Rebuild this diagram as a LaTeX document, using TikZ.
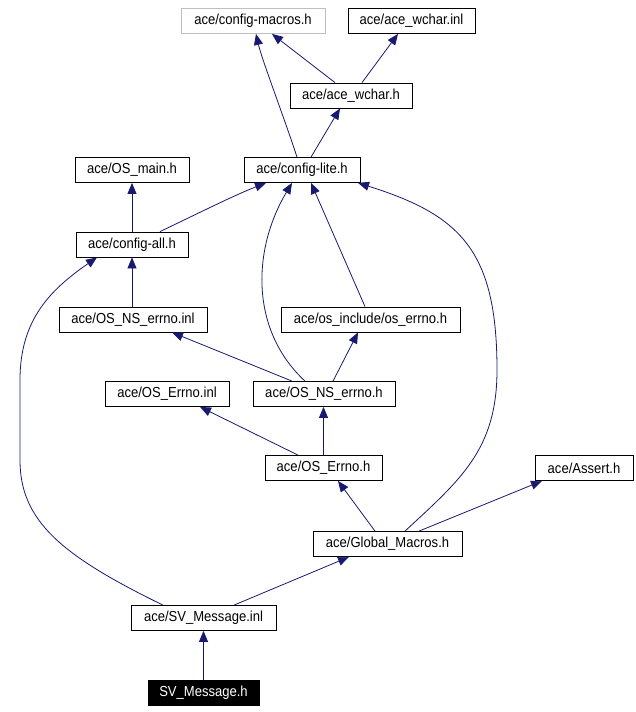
\documentclass[tikz,border=0pt]{standalone}
\usepackage{fontspec}
\setmainfont[FakeStretch=0.9]{Liberation Sans}
\usetikzlibrary{arrows.meta}
\definecolor{edgeblue}{HTML}{191970}
\definecolor{lightframe}{HTML}{BFBFBF}
\begin{document}
\begin{tikzpicture}[x=1pt,y=-1pt,
  box/.style={draw=black,line width=0.8pt,minimum height=25pt,inner sep=0pt,
    font=\fontsize{14.5}{16}\selectfont},
  dep/.style={draw=edgeblue,line width=0.8pt,-{Triangle[length=11pt,width=9pt]}}]
\useasboundingbox (0,0) rectangle (635,712);
% headers, top down
\node[box,draw=lightframe,minimum width=144] (cmacros) at (253,21) {ace/config-macros.h};
\node[box,minimum width=127] (wcharinl) at (411.5,21) {ace/ace\_wchar.inl};
\node[box,minimum width=122] (wcharh) at (351,95.5) {ace/ace\_wchar.h};
\node[box,minimum width=114] (osmain) at (132,170) {ace/OS\_main.h};
\node[box,minimum width=116] (clite) at (302,170) {ace/config-lite.h};
\node[box,minimum width=112] (call) at (132,244.5) {ace/config-all.h};
\node[box,minimum width=148] (nserrnoinl) at (133,319.5) {ace/OS\_NS\_errno.inl};
\node[box,minimum width=179] (oserrno) at (370.5,319.5) {ace/os\_include/os\_errno.h};
\node[box,minimum width=124] (errnoinl) at (167,394) {ace/OS\_Errno.inl};
\node[box,minimum width=142] (nserrnoh) at (324,394) {ace/OS\_NS\_errno.h};
\node[box,minimum width=117] (errnoh) at (323.5,468) {ace/OS\_Errno.h};
\node[box,minimum width=98] (assert) at (584,468) {ace/Assert.h};
\node[box,minimum width=149] (gmacros) at (387.5,544) {ace/Global\_Macros.h};
\node[box,minimum width=145] (svinl) at (203.5,618) {ace/SV\_Message.inl};
\node[box,fill=black,text=white,minimum width=111] (svh) at (203.5,692.5) {SV\_Message.h};
% includes
\draw[dep] ([xshift=-5]clite.north) .. controls (285,120) and (262,60) .. ([xshift=3]cmacros.south);
\draw[dep] ([xshift=-16]wcharh.north) -- ([xshift=19]cmacros.south);
\draw[dep] ([xshift=11]wcharh.north) -- ([xshift=-13.5]wcharinl.south);
\draw[dep] ([xshift=9]clite.north) -- ([xshift=-11]wcharh.south);
\draw[dep] (call.north) -- (osmain.south);
\draw[dep] ([xshift=28]call.north) .. controls (205,210) and (235,195) .. ([xshift=-36]clite.south);
\draw[dep] ([xshift=-1]nserrnoinl.north) -- (call.south);
\draw[dep] ([xshift=-19]nserrnoh.north) .. controls (250,330) and (252,250) .. ([xshift=-10]clite.south);
\draw[dep] ([xshift=-5.5]oserrno.north) -- ([xshift=9]clite.south);
\draw[dep] ([xshift=17.5]gmacros.north) .. controls (460,480) and (497,450) .. (497,370)
  .. controls (497,250) and (460,215) .. ([xshift=56]clite.south);
\draw[dep] ([xshift=-40.5]svinl.north) .. controls (60,555) and (20,520) .. (20,460) -- (20,380)
  .. controls (20,320) and (50,290) .. ([xshift=-35]call.south);
\draw[dep] ([xshift=-32]nserrnoh.north) -- ([xshift=39]nserrnoinl.south);
\draw[dep] ([xshift=9]nserrnoh.north) -- ([xshift=-12.5]oserrno.south);
\draw[dep] ([xshift=-25.5]errnoh.north) -- ([xshift=33]errnoinl.south);
\draw[dep] (errnoh.north) -- (errnoh.north |- nserrnoh.south);
\draw[dep] ([xshift=-12.5]gmacros.north) -- ([xshift=14.5]errnoh.south);
\draw[dep] ([xshift=31.5]gmacros.north) -- ([xshift=-42]assert.south);
\draw[dep] ([xshift=30.5]svinl.north) -- ([xshift=-38.5]gmacros.south);
\draw[dep] (svh.north) -- (svinl.south);
\end{tikzpicture}
\end{document}
